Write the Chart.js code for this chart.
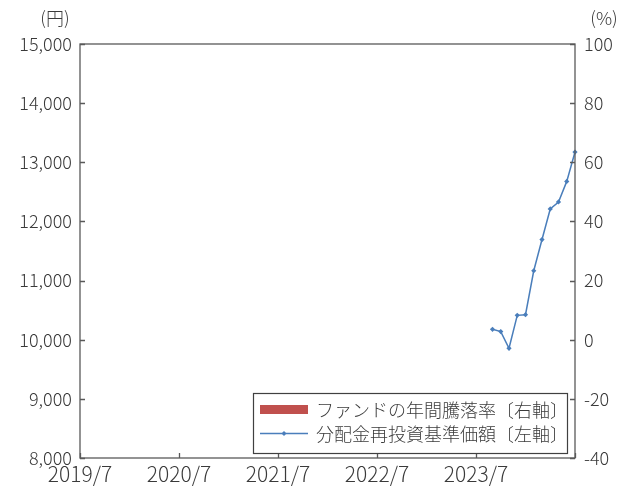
<!DOCTYPE html>
<html lang="ja">
<head>
<meta charset="utf-8">
<script src="https://cdn.jsdelivr.net/npm/chart.js@4/dist/chart.umd.min.js"></script>
<style>
  html, body { margin: 0; padding: 0; background: #fff; }
  #wrap { width: 622px; height: 489px; position: relative; }
</style>
</head>
<body>
<div id="wrap"><canvas id="chart" width="622" height="489"></canvas></div>
<script>
// 月次の軸ラベル（2019/7 〜 2024/7）
const months = [];
for (let y = 2019, m = 7; y * 12 + m <= 2024 * 12 + 7; m++) {
  if (m > 12) { m = 1; y++; }
  months.push(y + "/" + m);
}

// 分配金再投資基準価額（左軸）
const navMonths = [
  "2023/9", "2023/10", "2023/11", "2023/12", "2024/1", "2024/2",
  "2024/3", "2024/4", "2024/5", "2024/6", "2024/7",
];
const navValues = [
  10176, 10137, 9855, 10412, 10423, 11166,
  11694, 12211, 12329, 12677, 13173,
];

// ファンドの年間騰落率（右軸）: 表示なし
const returnValues = [];

const leftTicks = [8000, 9000, 10000, 11000, 12000, 13000, 14000, 15000];
const rightTicks = [-40, -20, 0, 20, 40, 60, 80, 100];

const FONT = "'Noto Sans CJK JP', 'Noto Sans', sans-serif";
const TEXT = "#3a3a3a";
const AXIS = "#595959";
const LINE = "#4a7ebb";
const BAR = "#c0504d";

// 枠線・内向き目盛・単位・凡例
const framePlugin = {
  id: "frame",
  afterDraw(chart) {
    const { ctx, chartArea: a, scales } = chart;
    ctx.save();
    ctx.strokeStyle = AXIS;
    ctx.lineWidth = 1.3;
    ctx.strokeRect(a.left, a.top, a.right - a.left, a.bottom - a.top);

    ctx.beginPath();
    scales.y.ticks.forEach((t) => {
      const py = Math.round(scales.y.getPixelForValue(t.value)) + 0.5;
      ctx.moveTo(a.left, py);
      ctx.lineTo(a.left + 5, py);
    });
    scales.y1.ticks.forEach((t) => {
      const py = Math.round(scales.y1.getPixelForValue(t.value)) + 0.5;
      ctx.moveTo(a.right, py);
      ctx.lineTo(a.right - 5, py);
    });
    months.forEach((lab, i) => {
      if (i % 12 === 0) {
        const px = Math.round(scales.x.getPixelForValue(i)) + 0.5;
        ctx.moveTo(px, a.bottom);
        ctx.lineTo(px, a.bottom - 5);
      }
    });
    ctx.stroke();

    ctx.fillStyle = TEXT;
    ctx.font = "300 18px " + FONT;
    ctx.textAlign = "center";
    ctx.textBaseline = "middle";
    ctx.fillText("(円)", 55, 18);
    ctx.fillText("(%)", 604, 18);

    // 凡例
    const bx = 253, by = 393, bw = 314, bh = 60;
    ctx.fillStyle = "#fff";
    ctx.fillRect(bx, by, bw, bh);
    ctx.strokeStyle = "#404040";
    ctx.lineWidth = 1.2;
    ctx.strokeRect(bx + 0.5, by + 0.5, bw, bh);

    ctx.fillStyle = BAR;
    ctx.fillRect(260, 405, 48, 9);

    ctx.strokeStyle = LINE;
    ctx.lineWidth = 1.3;
    ctx.beginPath();
    ctx.moveTo(260, 433.5);
    ctx.lineTo(308, 433.5);
    ctx.stroke();
    ctx.fillStyle = LINE;
    ctx.beginPath();
    ctx.moveTo(284, 431);
    ctx.lineTo(286.5, 433.5);
    ctx.lineTo(284, 436);
    ctx.lineTo(281.5, 433.5);
    ctx.closePath();
    ctx.fill();

    ctx.fillStyle = TEXT;
    ctx.font = "300 18px " + FONT;
    ctx.textAlign = "left";
    ctx.fillText(chart.data.datasets[0].label, 316, 410);
    ctx.fillText(chart.data.datasets[1].label, 316, 434);
    ctx.restore();
  },
};

const ctx = document.getElementById("chart").getContext("2d");
const chart = new Chart(ctx, {
  type: "line",
  data: {
    labels: months,
    datasets: [
      {
        type: "bar",
        label: "ファンドの年間騰落率〔右軸〕",
        data: returnValues,
        backgroundColor: BAR,
        yAxisID: "y1",
      },
      {
        type: "line",
        label: "分配金再投資基準価額〔左軸〕",
        data: navMonths.map((m, i) => ({ x: m, y: navValues[i] })),
        borderColor: LINE,
        backgroundColor: LINE,
        borderWidth: 1.5,
        pointStyle: "rectRot",
        pointRadius: 2.6,
        pointBorderWidth: 0,
        tension: 0,
        yAxisID: "y",
      },
    ],
  },
  options: {
    responsive: false,
    animation: false,
    devicePixelRatio: 1,
    layout: { padding: { top: 44, left: 0, right: 0, bottom: 0 } },
    plugins: {
      legend: { display: false },
      tooltip: { enabled: false },
    },
    scales: {
      x: {
        offset: false,
        grid: { display: false, offset: false, drawTicks: false },
        border: { display: false },
        ticks: {
          autoSkip: false,
          maxRotation: 0,
          padding: 3,
          color: TEXT,
          font: { family: FONT, size: 21, weight: 300 },
          callback: (v, i) => (i % 12 === 0 && i < 60 ? months[i] : null),
        },
        afterFit: (s) => { s.height = 31; },
      },
      y: {
        position: "left",
        min: 8000,
        max: 15000,
        grid: { display: false, drawTicks: false },
        border: { display: false },
        afterBuildTicks: (s) => { s.ticks = leftTicks.map((v) => ({ value: v })); },
        ticks: {
          autoSkip: false,
          padding: 8,
          color: TEXT,
          font: { family: FONT, size: 18, weight: 300 },
          callback: (v) => v.toLocaleString("en-US"),
        },
        afterFit: (s) => { s.width = 80; },
      },
      y1: {
        position: "right",
        min: -40,
        max: 100,
        grid: { display: false, drawTicks: false },
        border: { display: false },
        afterBuildTicks: (s) => { s.ticks = rightTicks.map((v) => ({ value: v })); },
        ticks: {
          autoSkip: false,
          padding: 9,
          color: TEXT,
          font: { family: FONT, size: 18, weight: 300 },
        },
        afterFit: (s) => { s.width = 47; },
      },
    },
  },
  plugins: [framePlugin],
});
</script>
</body>
</html>
